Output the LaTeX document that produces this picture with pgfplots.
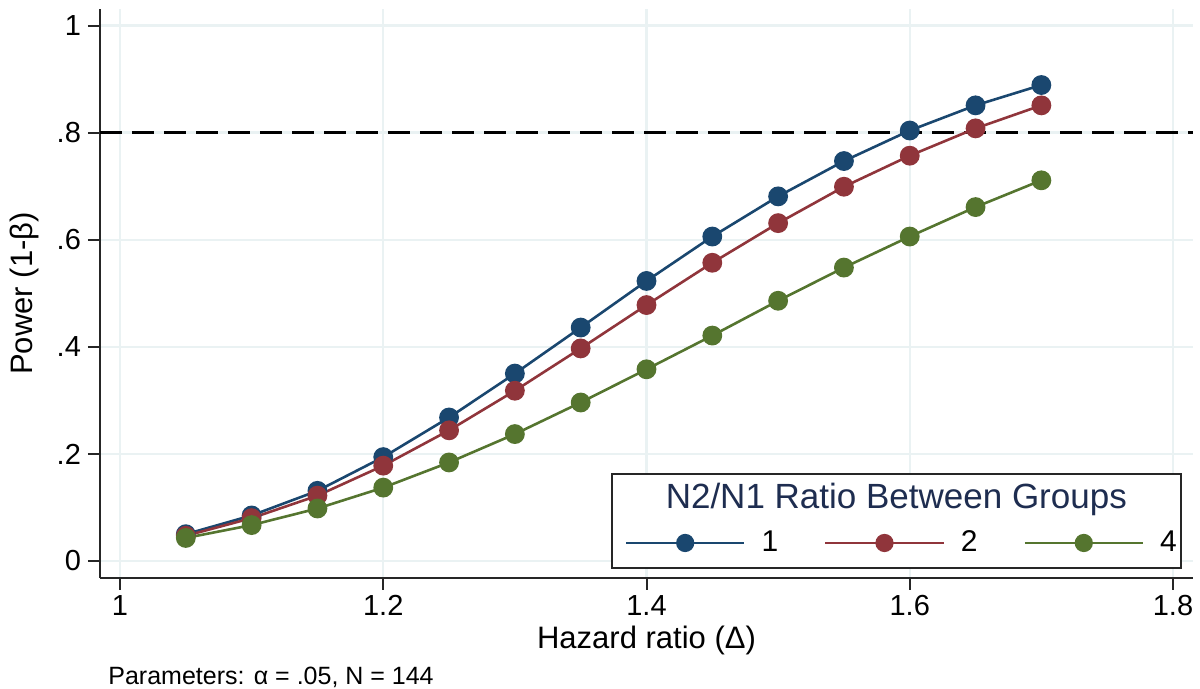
\documentclass[border=0pt]{standalone}
\usepackage{fontspec}
\setmainfont{Liberation Sans}
\usepackage{pgfplots}
\pgfplotsset{compat=1.18}
\definecolor{stnavy}{RGB}{26,71,111}
\definecolor{stmaroon}{RGB}{144,53,59}
\definecolor{stgreen}{RGB}{85,117,47}
\definecolor{stgrid}{RGB}{234,242,243}
\definecolor{sttitle}{RGB}{30,45,80}
\begin{document}
\begin{tikzpicture}
\path[use as bounding box] (0,0) rectangle (600pt,344.5pt);
\begin{axis}[
  at={(50pt,55.5pt)}, anchor=south west,
  scale only axis, width=546.5pt, height=284.5pt,
  xmin=0.9848, xmax=1.8152, ymin=-0.0318, ymax=1.031,
  axis x line*=bottom, axis y line*=left,
  axis line style={line width=1pt, black!85, -},
  xtick={1,1.2,1.4,1.6,1.8}, xticklabels={1,1.2,1.4,1.6,1.8},
  ytick={0,0.2,0.4,0.6,0.8,1}, yticklabels={0,.2,.4,.6,.8,1},
  tick align=outside, major tick length=6pt,
  tick style={line width=1pt, black!85},
  grid=major, major grid style={line width=1.2pt, stgrid},
  ticklabel style={font=\fontsize{14.5}{17}\selectfont},
  xticklabel style={yshift=1pt},
  xlabel={Hazard ratio (Δ)}, ylabel={Power (1-β)},
  label style={font=\fontsize{15.5}{18}\selectfont},
  xlabel style={at={(axis description cs:0.5,-0.109)}, anchor=center},
  ylabel style={at={(axis description cs:-0.0695,0.5)}, anchor=center},
  legend columns=3,
  legend style={at={(axis cs:1.3836,0.0336)}, anchor=west, draw=none, fill=none,
    inner sep=0pt, outer sep=0pt, column sep=8pt,
    font=\fontsize{15}{18}\selectfont, nodes={inner sep=0pt},
    /tikz/every even column/.append style={column sep=23pt}},
  legend image code/.code={\draw[mark repeat=2, mark phase=2, #1, mark size=3.9pt] plot coordinates {(0pt,0pt) (29.5pt,0pt) (59pt,0pt)};},
]
\addplot[black, line width=1.5pt, dash pattern=on 11pt off 5pt, forget plot] coordinates {(0.9848,0.8) (1.8152,0.8)};
\addplot[stnavy, line width=1.3pt, mark=*, mark size=4.3pt, mark options={fill=stnavy, draw=stnavy, solid}] coordinates {
(1.05,0.050) (1.10,0.085) (1.15,0.131) (1.20,0.194) (1.25,0.268) (1.30,0.350) (1.35,0.436)
(1.40,0.523) (1.45,0.606) (1.50,0.681) (1.55,0.747) (1.60,0.804) (1.65,0.851) (1.70,0.889)};
\addlegendentry{1}
\addplot[stmaroon, line width=1.3pt, mark=*, mark size=4.3pt, mark options={fill=stmaroon, draw=stmaroon, solid}] coordinates {
(1.05,0.047) (1.10,0.080) (1.15,0.122) (1.20,0.178) (1.25,0.244) (1.30,0.318) (1.35,0.397)
(1.40,0.478) (1.45,0.557) (1.50,0.631) (1.55,0.699) (1.60,0.757) (1.65,0.808) (1.70,0.851)};
\addlegendentry{2}
\addplot[stgreen, line width=1.3pt, mark=*, mark size=4.3pt, mark options={fill=stgreen, draw=stgreen, solid}] coordinates {
(1.05,0.043) (1.10,0.067) (1.15,0.098) (1.20,0.137) (1.25,0.184) (1.30,0.237) (1.35,0.296)
(1.40,0.358) (1.45,0.421) (1.50,0.486) (1.55,0.548) (1.60,0.606) (1.65,0.661) (1.70,0.711)};
\addlegendentry{4}
\draw[line width=1pt, black!85, fill=white] (axis cs:1.3737,-0.0131) rectangle (axis cs:1.8059,0.1625);
\node[font=\fontsize{17.5}{20}\selectfont, text=sttitle] at (axis cs:1.5898,0.1158) {N2/N1 Ratio Between Groups};
\end{axis}
\node[anchor=west, inner sep=0pt, font=\fontsize{12.5}{15}\selectfont] at (54pt,6pt) {Parameters: α = .05, N = 144};
\end{tikzpicture}
\end{document}
